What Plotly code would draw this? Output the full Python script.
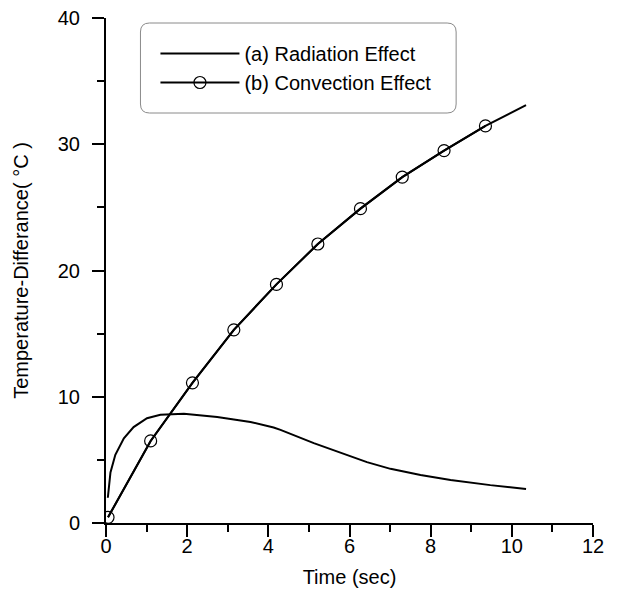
import plotly.graph_objects as go

# Radiation effect (a)
rad_t = [0.045, 0.11, 0.23, 0.44, 0.68, 1.01, 1.34, 1.6, 1.92, 2.74, 3.56, 4.13,
         4.30, 5.12, 5.94, 6.43, 7.01, 7.75, 8.49, 9.47, 10.35]
rad_dT = [2.0, 4.0, 5.4, 6.7, 7.6, 8.3, 8.57, 8.63, 8.65, 8.4, 8.0, 7.56,
          7.38, 6.33, 5.4, 4.82, 4.29, 3.81, 3.41, 3.0, 2.7]

# Convection effect (b)
conv_t = [0.05, 1.1, 2.13, 3.15, 4.2, 5.22, 6.27, 7.30, 8.33, 9.35, 10.35]
conv_dT = [0.45, 6.5, 11.1, 15.3, 18.9, 22.1, 24.9, 27.4, 29.5, 31.45, 33.1]
n_markers = 10

x_ticks = [0, 2, 4, 6, 8, 10, 12]
y_ticks = [0, 10, 20, 30, 40]

FONT = "Liberation Sans, Arial, sans-serif"
FS = 20

fig = go.Figure()
fig.add_trace(go.Scatter(x=rad_t, y=rad_dT, mode="lines", name="(a) Radiation Effect",
                         line=dict(color="black", width=2)))
fig.add_trace(go.Scatter(x=conv_t, y=conv_dT, mode="lines", showlegend=False,
                         legendgroup="b", line=dict(color="black", width=2)))
fig.add_trace(go.Scatter(x=conv_t[:n_markers], y=conv_dT[:n_markers], mode="lines+markers",
                         name="(b) Convection Effect", legendgroup="b",
                         line=dict(color="black", width=2),
                         marker=dict(symbol="circle-open", size=12, color="black",
                                     line=dict(width=1.2, color="black"))))

# the page body adds an 8 px offset; screen positions below are compensated
OFF = 8
W, H = 629, 604
pw, ph = 487.5, 505
L, T = 105.5 - OFF, 18 - OFF
R, B = W - L - pw, H - T - ph

def px2paper(px, py):
    return (px - OFF - L) / pw, (T + ph - (py - OFF)) / ph

x0, y1 = px2paper(140, 23)
x1, y0 = px2paper(456, 113)
rx, ry = 9 / pw, 9 / ph
path = (f"M{x0+rx},{y1} L{x1-rx},{y1} Q{x1},{y1} {x1},{y1-ry} "
        f"L{x1},{y0+ry} Q{x1},{y0} {x1-rx},{y0} "
        f"L{x0+rx},{y0} Q{x0},{y0} {x0},{y0+ry} "
        f"L{x0},{y1-ry} Q{x0},{y1} {x0+rx},{y1} Z")
fig.add_shape(type="path", path=path, xref="paper", yref="paper",
              line=dict(color="#8a8a8a", width=1), fillcolor="rgba(0,0,0,0)", layer="below")

lx, ly = px2paper(155, 34)
fig.update_layout(
    width=W, height=H,
    margin=dict(l=L, r=R, t=T, b=B, autoexpand=False),
    paper_bgcolor="white", plot_bgcolor="white",
    font=dict(family=FONT, size=FS, color="black"),
    showlegend=True,
    legend=dict(x=lx, y=ly, xanchor="left", yanchor="top", bgcolor="rgba(0,0,0,0)",
                borderwidth=0, font=dict(family=FONT, size=FS), itemwidth=79,
                tracegroupgap=0),
    xaxis=dict(range=[0, 12], tickvals=x_ticks, ticktext=[str(v) for v in x_ticks],
               automargin=False, ticklabeloverflow="allow",
               showgrid=False, zeroline=False, showline=True, linecolor="black", linewidth=2,
               ticks="outside", ticklen=12, tickwidth=2, tickcolor="black",
               minor=dict(dtick=1, ticks="outside", ticklen=7, tickwidth=2, tickcolor="black"),
               ticklabelstandoff=-8,
               title=dict(text="Time (sec)", font=dict(size=FS), standoff=14),
               tickfont=dict(size=FS)),
    yaxis=dict(range=[0, 40], tickvals=y_ticks, ticktext=[str(v) for v in y_ticks],
               automargin=False, ticklabeloverflow="allow",
               showgrid=False, zeroline=False, showline=True, linecolor="black", linewidth=2,
               ticks="outside", ticklen=12, tickwidth=2, tickcolor="black",
               minor=dict(dtick=5, ticks="outside", ticklen=7, tickwidth=2, tickcolor="black"),
               ticklabelstandoff=8,
               title=dict(text="Temperature-Differance( °C )", font=dict(size=FS), standoff=24),
               tickfont=dict(size=FS)),
)
fig.write_html("out.html")
